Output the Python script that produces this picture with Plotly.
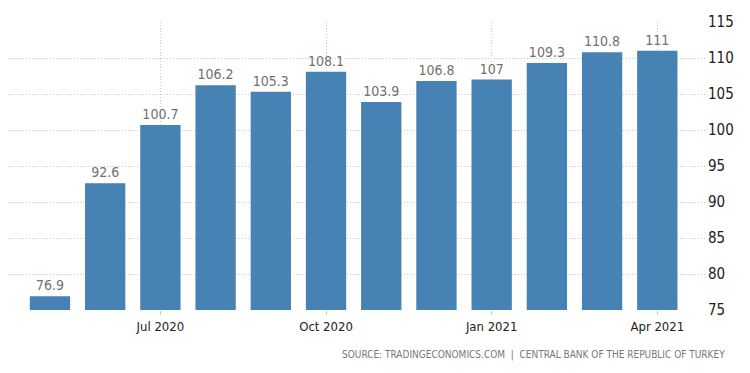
import plotly.graph_objects as go

months = ["May 2020", "Jun 2020", "Jul 2020", "Aug 2020", "Sep 2020", "Oct 2020",
          "Nov 2020", "Dec 2020", "Jan 2021", "Feb 2021", "Mar 2021", "Apr 2021"]
values = [76.9, 92.6, 100.7, 106.2, 105.3, 108.1, 103.9, 106.8, 107, 109.3, 110.8, 111]
tick_labels = ["Jul 2020", "Oct 2020", "Jan 2021", "Apr 2021"]
y_ticks = [75, 80, 85, 90, 95, 100, 105, 110, 115]

FONT = "DejaVu Sans Condensed, Liberation Sans Narrow, sans-serif"

fig = go.Figure(go.Bar(
    x=months, y=values,
    marker=dict(color="#4682B4", line=dict(width=0)),
    text=[f"{v:g}" for v in values], textposition="outside",
    textfont=dict(family=FONT, size=14, color="#707070"),
    cliponaxis=False,
))

# page body has an 8px offset; margins compensate so the plot sits where the reference's does
fig.update_layout(
    width=750, height=373,
    margin=dict(l=0, r=51, t=14, b=71),
    paper_bgcolor="white", plot_bgcolor="white",
    bargap=0.27,
    showlegend=False,
    font=dict(family=FONT),
)
fig.update_xaxes(
    type="category",
    range=[-0.76, 11.9],
    tickmode="array", tickvals=tick_labels, ticktext=tick_labels,
    showgrid=True, gridcolor="#c8c8c8", griddash="1px,2px", gridwidth=1,
    ticks="outside", ticklen=4, tickcolor="#c8c8c8",
    tickfont=dict(size=13, color="#222"),
    showline=False, zeroline=False,
)
fig.update_yaxes(
    side="right", range=[75, 115],
    tickvals=y_ticks,
    showgrid=True, gridcolor="#c8c8c8", griddash="1px,2px", gridwidth=1,
    tickfont=dict(size=15, color="#222"),
    ticks="", zeroline=False, showline=False,
)
fig.add_annotation(
    text="SOURCE: TRADINGECONOMICS.COM  |  CENTRAL BANK OF THE REPUBLIC OF TURKEY",
    xref="paper", yref="paper", x=1.029, y=-0.156, xanchor="right", yanchor="middle",
    showarrow=False, font=dict(family=FONT, size=10, color="#777"),
)
fig.write_html("out.html")
